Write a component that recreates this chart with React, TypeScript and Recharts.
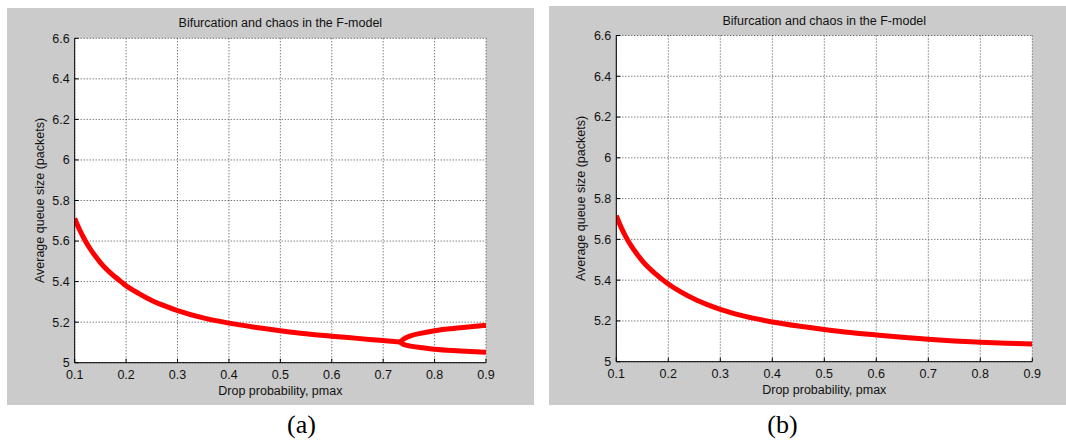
import { CartesianGrid, Line, LineChart, XAxis, YAxis } from "recharts"

// panel (a): single branch up to the split, then two branches
const pmaxA = [0.1, 0.11, 0.12, 0.13, 0.14, 0.15, 0.16, 0.17, 0.18, 0.19, 0.2, 0.225, 0.25, 0.275, 0.3, 0.35, 0.4, 0.45, 0.5, 0.55, 0.6, 0.65, 0.7, 0.733]
const queueA = [5.712, 5.653, 5.604, 5.562, 5.526, 5.494, 5.466, 5.442, 5.42, 5.4, 5.38, 5.341, 5.307, 5.28, 5.257, 5.221, 5.195, 5.175, 5.158, 5.143, 5.131, 5.12, 5.109, 5.102]
const pmaxSplit = [0.733, 0.74, 0.753, 0.775, 0.8, 0.85, 0.9]
const upperA = [5.102, 5.117, 5.132, 5.146, 5.158, 5.172, 5.184]
const lowerA = [5.102, 5.09, 5.082, 5.074, 5.066, 5.058, 5.051]

// panel (b)
const pmaxB = [0.1, 0.11, 0.12, 0.13, 0.14, 0.15, 0.16, 0.17, 0.18, 0.19, 0.2, 0.225, 0.25, 0.275, 0.3, 0.35, 0.4, 0.45, 0.5, 0.55, 0.6, 0.65, 0.7, 0.75, 0.8, 0.85, 0.9]
const queueB = [5.716, 5.655, 5.605, 5.563, 5.527, 5.495, 5.467, 5.443, 5.421, 5.4, 5.381, 5.341, 5.307, 5.28, 5.257, 5.221, 5.195, 5.175, 5.158, 5.143, 5.131, 5.12, 5.11, 5.102, 5.096, 5.091, 5.087]

const xTicks = [0.1, 0.2, 0.3, 0.4, 0.5, 0.6, 0.7, 0.8, 0.9]
const yTicks = [5, 5.2, 5.4, 5.6, 5.8, 6, 6.2, 6.4, 6.6]

const title = "Bifurcation and chaos in the F-model"
const xLabel = "Drop probability, pmax"
const yLabel = "Average queue size (packets)"

const font = 'Arial, "Liberation Sans", Helvetica, sans-serif'
const tick = { fill: "#111", fontSize: 12.5, fontFamily: font }

function toRows(xs: number[], ys: number[]) {
  return xs.map((p, i) => ({ p, q: ys[i] }))
}

interface PanelProps {
  left: number
  top: number
  width: number
  height: number
  margin: { top: number; right: number; bottom: number; left: number }
  series: { p: number; q: number }[][]
  caption: string
  captionX: number
}

function Panel({ left, top, width, height, margin, series, caption, captionX }: PanelProps) {
  const plotLeft = margin.left + 40
  const plotRight = width - margin.right
  const plotTop = margin.top
  const plotBottom = height - margin.bottom - 20
  const cx = (plotLeft + plotRight) / 2
  const cy = (plotTop + plotBottom) / 2

  const text = {
    position: "absolute" as const,
    width: 400,
    textAlign: "center" as const,
    fontFamily: font,
    fontSize: 12.5,
    lineHeight: "15px",
    color: "#111",
    whiteSpace: "nowrap" as const,
  }

  return (
    <>
      <div style={{ position: "absolute", left, top, width, height, background: "#cbcbcb" }}>
        <LineChart width={width} height={height} margin={margin}>
          <CartesianGrid stroke="#444" strokeDasharray="1 2" fill="#fff" />
          <XAxis
            type="number"
            dataKey="p"
            domain={[0.1, 0.9]}
            ticks={xTicks}
            allowDataOverflow
            height={20}
            axisLine={{ stroke: "#000" }}
            tickLine={{ stroke: "#000" }}
            tickSize={-4}
            tickMargin={11}
            tick={tick}
          />
          <YAxis
            type="number"
            dataKey="q"
            domain={[5, 6.6]}
            ticks={yTicks}
            allowDataOverflow
            width={40}
            axisLine={{ stroke: "#000" }}
            tickLine={{ stroke: "#000" }}
            tickSize={-4}
            tickMargin={9}
            tick={tick}
          />
          {series.map((d, i) => (
            <Line
              key={i}
              data={d}
              dataKey="q"
              type="monotone"
              stroke="#ff0000"
              strokeWidth={5}
              dot={false}
              isAnimationActive={false}
            />
          ))}
        </LineChart>
        <div style={{ ...text, left: cx - 200, top: plotTop - 22 }}>{title}</div>
        <div style={{ ...text, left: cx - 200, top: plotBottom + 21 }}>{xLabel}</div>
        <div
          style={{
            ...text,
            left: plotLeft - 35 - 200,
            top: cy - 7.5,
            transform: "rotate(-90deg)",
          }}
        >
          {yLabel}
        </div>
      </div>
      <div
        style={{
          position: "absolute",
          left: captionX - 50,
          top: 410,
          width: 100,
          textAlign: "center",
          fontFamily: '"Times New Roman", "Liberation Serif", serif',
          fontSize: 26,
          lineHeight: "30px",
          color: "#000",
        }}
      >
        {caption}
      </div>
    </>
  )
}

export default function App() {
  return (
    <div style={{ position: "absolute", left: 0, top: 0, width: 1066, height: 440, background: "#fff", overflow: "hidden" }}>
      <Panel
        left={7}
        top={8}
        width={527}
        height={397}
        margin={{ top: 30.3, right: 48, bottom: 22.3, left: 27.7 }}
        series={[toRows(pmaxA, queueA), toRows(pmaxSplit, upperA), toRows(pmaxSplit, lowerA)]}
        caption="(a)"
        captionX={301.5}
      />
      <Panel
        left={549}
        top={6}
        width={517}
        height={399}
        margin={{ top: 29.5, right: 33.7, bottom: 23.3, left: 27.3 }}
        series={[toRows(pmaxB, queueB)]}
        caption="(b)"
        captionX={782.5}
      />
    </div>
  )
}
